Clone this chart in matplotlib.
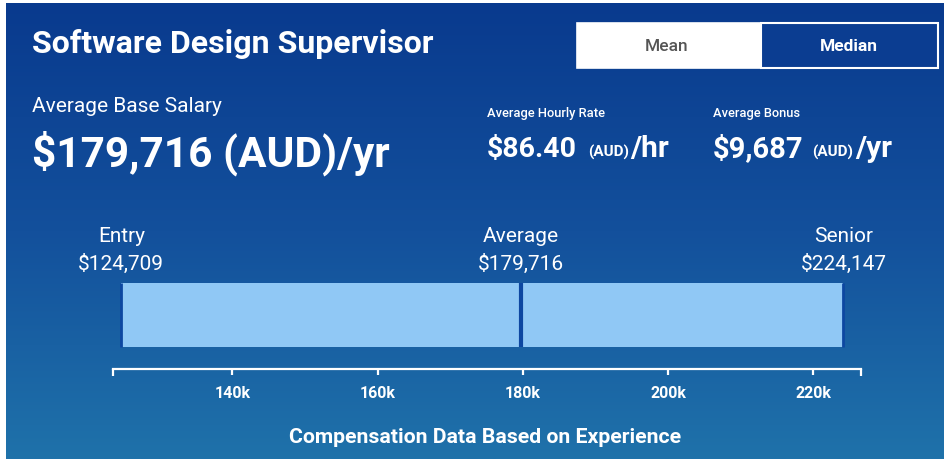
import numpy as np
import matplotlib
matplotlib.use("Agg")
import matplotlib.pyplot as plt
from matplotlib.colors import LinearSegmentedColormap
from matplotlib.patches import Rectangle

# ---------------- data ----------------
job_title = "Software Design Supervisor"
avg_base_salary = 179716
hourly_rate = 86.40
avg_bonus = 9687
levels = ["Entry", "Average", "Senior"]
level_values = [124709, 179716, 224147]
tick_values = [140000, 160000, 180000, 200000, 220000]
tick_labels = ["140k", "160k", "180k", "200k", "220k"]
toggle_labels = ["Mean", "Median"]

plt.rcParams['font.family'] = ['Roboto', 'DejaVu Sans']

W, H = 944, 459
fig = plt.figure(figsize=(W / 100, H / 100), dpi=100)
fig.patch.set_facecolor("white")

# background axes in pixel coordinates
bg = fig.add_axes([0, 0, 1, 1])
bg.set_xlim(0, W)
bg.set_ylim(H, 0)
bg.axis("off")
cmap = LinearSegmentedColormap.from_list("bg", ["#093a8e", "#13509c", "#1f72aa"])
grad = np.linspace(0, 1, 256).reshape(-1, 1)
bg.imshow(grad, cmap=cmap, aspect="auto", extent=[6, W, H, 3], zorder=0)

white = "white"
# title
bg.text(32, 53, job_title, color=white, fontsize=23, fontweight="bold", va="baseline", ha="left")
bg.text(32, 112, "Average Base Salary", color=white, fontsize=15, va="baseline", ha="left")
bg.text(32, 167, f"${avg_base_salary:,} (AUD)/yr", color=white, fontsize=30.5, fontweight="bold",
        va="baseline", ha="left")

# toggle
bg.add_patch(Rectangle((577, 23), 184, 45, facecolor="white", edgecolor="white", lw=1.2, zorder=2))
bg.add_patch(Rectangle((761, 23), 177, 45, facecolor="#0b3d91", edgecolor="white", lw=1.5, zorder=2))
bg.text(667, 51, toggle_labels[0], color="#555555", fontsize=12.5, fontweight="medium", ha="center", va="baseline", zorder=3)
bg.text(849, 51, toggle_labels[1], color=white, fontsize=12.5, fontweight="bold", ha="center", va="baseline", zorder=3)

# hourly & bonus
bg.text(487, 117, "Average Hourly Rate", color=white, fontsize=9.3, fontweight="medium", va="baseline")
bg.text(487, 157, f"${hourly_rate:.2f}", color=white, fontsize=20.5, fontweight="bold", va="baseline")
bg.text(588, 157, "(AUD)", color=white, fontsize=11, fontweight="bold", va="baseline")
bg.text(630, 157, "/hr", color=white, fontsize=21.5, fontweight="bold", va="baseline")

bg.text(713, 117, "Average Bonus", color=white, fontsize=9.3, fontweight="medium", va="baseline")
bg.text(713, 157, f"${avg_bonus:,}", color=white, fontsize=21, fontweight="bold", va="baseline")
bg.text(812, 157, "(AUD)", color=white, fontsize=11, fontweight="bold", va="baseline")
bg.text(855, 157, "/yr", color=white, fontsize=21.5, fontweight="bold", va="baseline")

bg.text(485, 443, "Compensation Data Based on Experience", color=white, fontsize=15.3,
        fontweight="bold", ha="center", va="baseline")

# ---------------- bar axes ----------------
ax_left, ax_right = 112.7, 860.7
ax_top, ax_bottom = 282.7, 369.0
ax = fig.add_axes([ax_left / W, 1 - ax_bottom / H, (ax_right - ax_left) / W, (ax_bottom - ax_top) / H])
ax.patch.set_alpha(0)
xmin, xmax = 123530, 226530
ax.set_xlim(xmin, xmax)
ax.set_ylim(0, 1)
bar_bottom = (ax_bottom - 347.3) / (ax_bottom - ax_top)
ax.barh(bar_bottom + (1 - bar_bottom) / 2, level_values[-1] - level_values[0], height=1 - bar_bottom,
        left=level_values[0], color="#90c8f5", edgecolor="none", zorder=2)
ax.vlines(level_values, bar_bottom, 1, colors="#0d47a1", lw=[2, 3, 2], zorder=3)

for s in ["top", "left", "right"]:
    ax.spines[s].set_visible(False)
ax.spines["bottom"].set_color(white)
ax.spines["bottom"].set_linewidth(1.6)
ax.set_yticks([])
ax.set_xticks(tick_values)
ax.set_xticklabels(tick_labels)
ax.set_xticks([xmin, xmax], minor=True)
ax.tick_params(axis="x", which="major", colors=white, direction="out", length=4, width=1.6,
               labelsize=11.5, pad=8)
ax.tick_params(axis="x", which="minor", colors=white, direction="out", length=5, width=1.6)
for lbl in ax.get_xticklabels():
    lbl.set_fontweight("bold")

# level labels
for name, v in zip(levels, level_values):
    xpix = ax_left + (v - xmin) / (xmax - xmin) * (ax_right - ax_left)
    bg.text(xpix, 241.5, name, color=white, fontsize=15, ha="center", va="baseline")
    bg.text(xpix, 270, f"${v:,}", color=white, fontsize=15, ha="center", va="baseline")

fig.savefig("out.png", dpi=100, facecolor=fig.get_facecolor())
